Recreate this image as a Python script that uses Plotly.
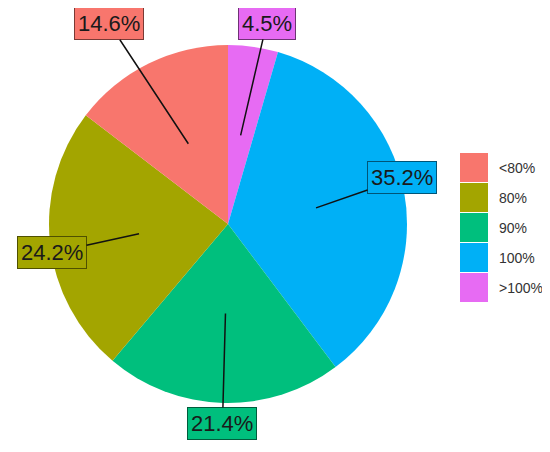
import numpy as np
import plotly.graph_objects as go

# ---------------------------
# Données
# ---------------------------
categories = ["<80%", "80%", "90%", "100%", ">100%"]
parts = [14.6, 24.2, 21.4, 35.2, 4.5]
couleurs = ["#F8766D", "#A3A500", "#00BF7D", "#00B0F6", "#E76BF3"]
bordures = ["#7a3a35", "#4f5000", "#005c3c", "#005577", "#6e3374"]

# décalage des étiquettes (pixels) par rapport au point d'ancrage
decal_x = [-79, -87, -3, 86, 26]
decal_y = [-120, 19, 110, -30, -112]

W, H = 550, 452
OFF = 8  # marge par défaut du <body> dans la page
cx, cy, r = 228 - OFF, 224 - OFF, 179  # centre et rayon du camembert en pixels

# ordre horaire depuis midi (inverse de la légende)
fig = go.Figure()
fig.add_trace(go.Pie(
    labels=categories[::-1],
    values=parts[::-1],
    sort=False,
    direction="clockwise",
    rotation=0,
    textinfo="none",
    hoverinfo="label+percent",
    marker=dict(colors=couleurs[::-1], line=dict(width=0)),
    domain=dict(x=[(cx - r) / W, (cx + r) / W], y=[1 - (cy + r) / H, 1 - (cy - r) / H]),
    showlegend=False,
))

# étiquettes avec trait de rappel (angle anti-horaire depuis midi)
total = sum(parts)
cumul = np.cumsum([0] + parts[:-1])
for i, cat in enumerate(categories):
    frac = (cumul[i] + parts[i] / 2) / total
    ang = 2 * np.pi * frac
    px_ = cx - 0.5 * r * np.sin(ang)
    py_ = cy - 0.5 * r * np.cos(ang)
    fig.add_annotation(
        x=px_ / W, y=1 - py_ / H, xref="paper", yref="paper",
        ax=decal_x[i], ay=decal_y[i],
        text=f"{parts[i]:.1f}%",
        showarrow=True, arrowhead=0, arrowwidth=1.5, arrowcolor="#111111",
        font=dict(size=22, color="#1a1a1a", family="Liberation Sans, Arial"),
        bgcolor=couleurs[i], bordercolor=bordures[i], borderwidth=1, borderpad=3,
    )

# légende dessinée à la main (carrés façon ggplot)
for i, cat in enumerate(categories):
    y0 = 153 - OFF + 30 * i
    fig.add_shape(type="rect", xref="paper", yref="paper",
                  x0=(460 - OFF) / W, x1=(488 - OFF) / W, y0=1 - (y0 + 29) / H, y1=1 - y0 / H,
                  fillcolor=couleurs[i], line=dict(width=0))
    fig.add_annotation(x=(497 - OFF) / W, y=1 - (y0 + 14.5) / H, xref="paper", yref="paper",
                       text=cat, showarrow=False, xanchor="left", yanchor="middle",
                       font=dict(size=14, color="#333333", family="Liberation Sans, Arial"))

fig.update_layout(
    width=W, height=H,
    margin=dict(l=0, r=0, t=0, b=0),
    paper_bgcolor="white",
    plot_bgcolor="white",
)

fig.write_html("out.html")
